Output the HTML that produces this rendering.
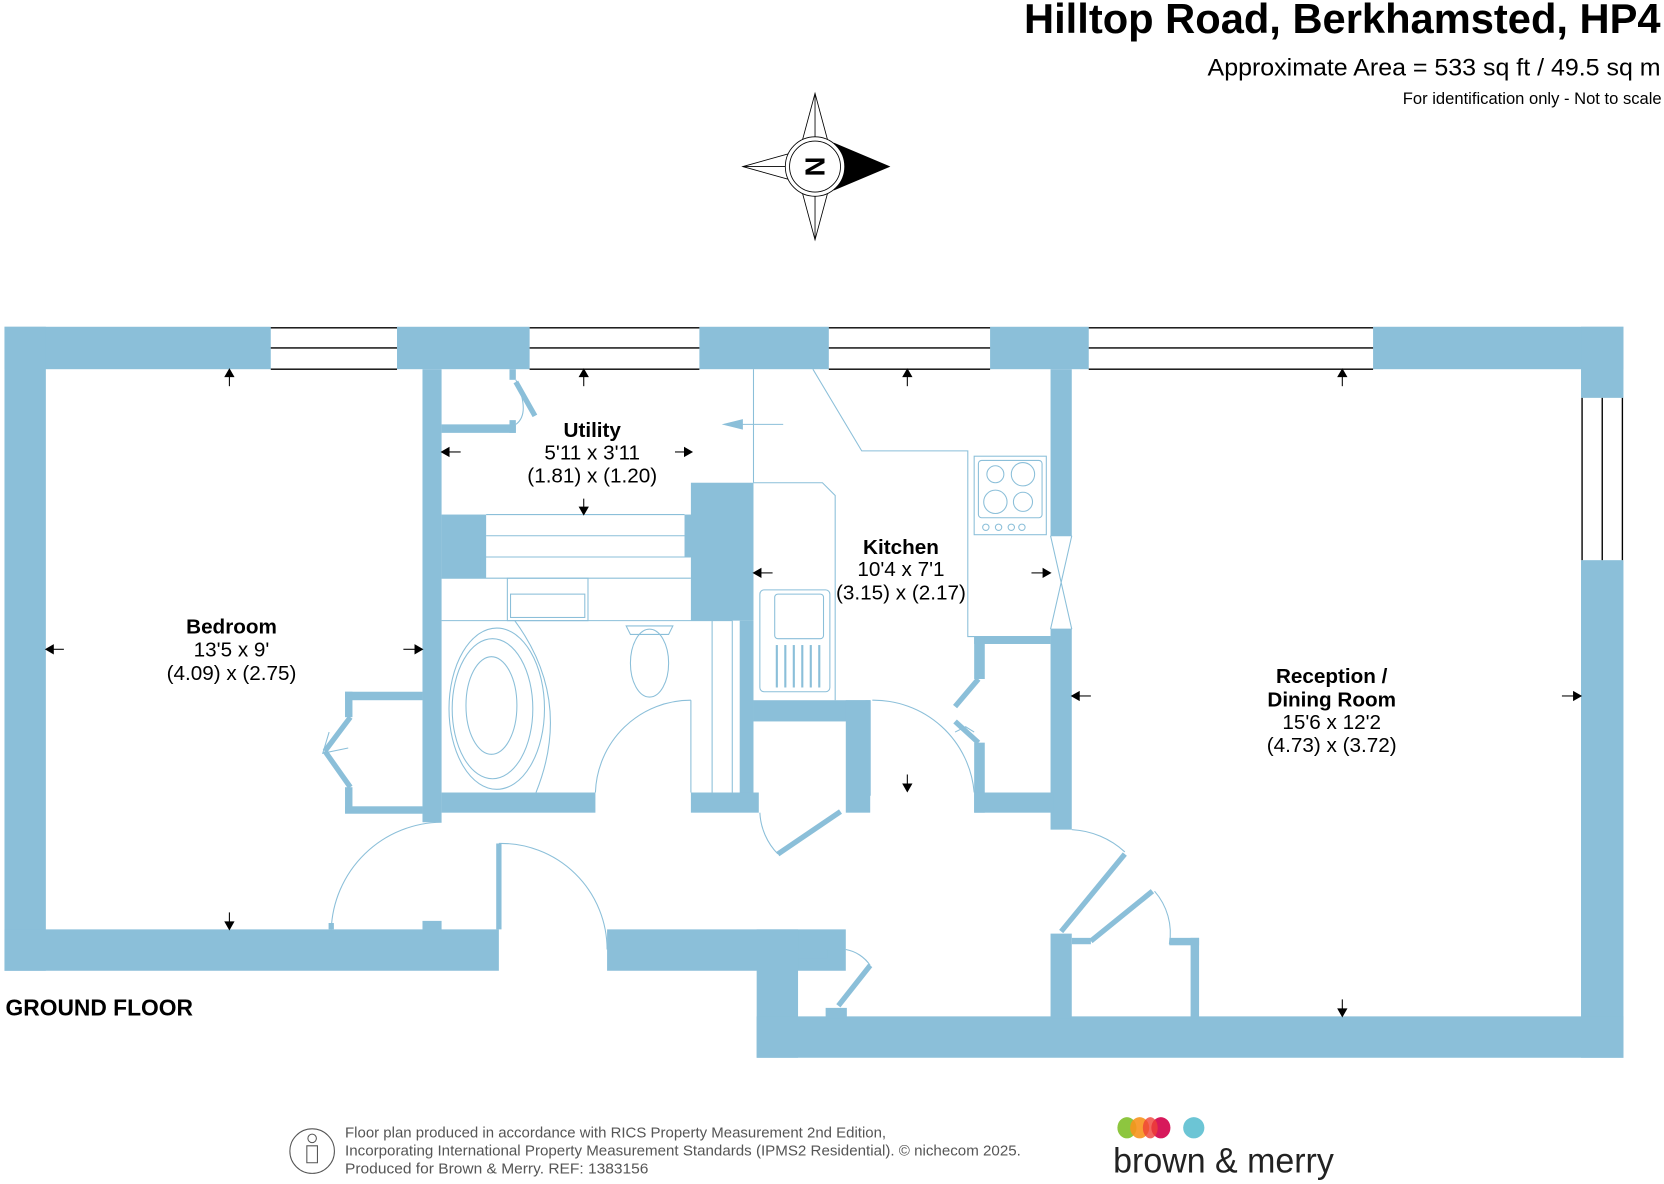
<!DOCTYPE html>
<html><head><meta charset="utf-8"><style>
html,body{margin:0;padding:0;background:#fff;width:1664px;height:1184px;overflow:hidden}
svg{display:block}
text{font-family:"Liberation Sans",sans-serif}
</style></head><body>
<svg width="1664" height="1184" viewBox="0 0 1568 1116" xmlns="http://www.w3.org/2000/svg">
<g fill="#8bbfd9">
<rect x="4" y="308" width="251" height="40"/>
<rect x="374" y="308" width="125" height="40"/>
<rect x="659" y="308" width="122" height="40"/>
<rect x="933" y="308" width="93" height="40"/>
<rect x="1294" y="308" width="236" height="40"/>
<rect x="4" y="308" width="39" height="607"/>
<rect x="1490" y="308" width="40" height="67"/>
<rect x="1490" y="528" width="40" height="469"/>
<rect x="4" y="876" width="466" height="39"/>
<rect x="572" y="876" width="225" height="39"/>
<rect x="713" y="876" width="39" height="121"/>
<rect x="713" y="958" width="817" height="39"/>
<rect x="398" y="868" width="18" height="10"/>
<rect x="752" y="895" width="28" height="8"/>
<rect x="778" y="950" width="20" height="10"/>
<rect x="398" y="348" width="18" height="427"/>
<rect x="325" y="652" width="73" height="8"/>
<rect x="325" y="760" width="73" height="7"/>
<rect x="325" y="652" width="7" height="24"/>
<rect x="325" y="742" width="7" height="24"/>
<rect x="416" y="400" width="70" height="8"/>
<rect x="480" y="348" width="6" height="10"/>
<rect x="480" y="396" width="6" height="12"/>
<rect x="416" y="485" width="42" height="60"/>
<rect x="651" y="455" width="59" height="130"/>
<rect x="645" y="485" width="8" height="40"/>
<rect x="697" y="585" width="13" height="180"/>
<rect x="416" y="747" width="145" height="19"/>
<rect x="651" y="747" width="64" height="19"/>
<rect x="710" y="660" width="110" height="20"/>
<rect x="797" y="660" width="23" height="106"/>
<rect x="990" y="348" width="20" height="157"/>
<rect x="990" y="593" width="20" height="189"/>
<rect x="918" y="600" width="72" height="7"/>
<rect x="918" y="600" width="10" height="40"/>
<rect x="918" y="700" width="10" height="66"/>
<rect x="918" y="747" width="75" height="19"/>
<rect x="990" y="880" width="20" height="80"/>
<rect x="1010" y="884" width="18" height="6"/>
<rect x="1102" y="884" width="28" height="7"/>
<rect x="1122" y="884" width="8" height="76"/>
</g>
<g stroke="#000" stroke-width="1.3">
<line x1="255" y1="309" x2="374" y2="309"/><line x1="255" y1="328" x2="374" y2="328"/><line x1="255" y1="348" x2="374" y2="348"/>
<line x1="499" y1="309" x2="659" y2="309"/><line x1="499" y1="328" x2="659" y2="328"/><line x1="499" y1="348" x2="659" y2="348"/>
<line x1="781" y1="309" x2="933" y2="309"/><line x1="781" y1="328" x2="933" y2="328"/><line x1="781" y1="348" x2="933" y2="348"/>
<line x1="1026" y1="309" x2="1294" y2="309"/><line x1="1026" y1="328" x2="1294" y2="328"/><line x1="1026" y1="348" x2="1294" y2="348"/>
<line x1="1491" y1="375" x2="1491" y2="528"/><line x1="1510" y1="375" x2="1510" y2="528"/><line x1="1529" y1="375" x2="1529" y2="528"/>
</g>
<g fill="none" stroke="#8bbfd9" stroke-width="1">
<line x1="458" y1="485" x2="645" y2="485"/><line x1="458" y1="505" x2="645" y2="505"/><line x1="452" y1="525" x2="651" y2="525"/><line x1="452" y1="525" x2="452" y2="545"/>
<line x1="416" y1="545" x2="651" y2="545"/><line x1="416" y1="585" x2="690" y2="585"/>
<rect x="478" y="545" width="76" height="40"/><rect x="481" y="560" width="70" height="22"/>
<ellipse cx="468" cy="668" rx="45" ry="76"/><ellipse cx="464" cy="668" rx="38" ry="66"/><ellipse cx="463" cy="665" rx="24" ry="46"/>
<path d="M485 585 Q540 660 505 747"/>
<ellipse cx="612" cy="625" rx="18" ry="32"/><path d="M590 590 L634 590 L630 598 L594 598Z"/>
<line x1="671" y1="585" x2="671" y2="747"/><line x1="690" y1="585" x2="690" y2="747"/>
<path d="M561 747 A90 90 0 0 1 651 660"/><line x1="651" y1="660" x2="651" y2="747"/>
<line x1="710" y1="348" x2="710" y2="455"/>
<path d="M766 348 L812 425 L912 425 L912 600 L990 600"/>
<path d="M710 455 L775 455 L787 467 L787 660"/>
<rect x="716" y="556" width="66" height="96" rx="4"/><rect x="730" y="560" width="46" height="42" rx="3"/>
<rect x="918" y="430" width="68" height="74"/><rect x="922" y="434" width="60" height="54" rx="3"/>
<circle cx="938" cy="447" r="8"/><circle cx="964" cy="447" r="11"/><circle cx="938" cy="473" r="11"/><circle cx="964" cy="473" r="9"/>
<circle cx="929" cy="497" r="3"/><circle cx="941" cy="497" r="3"/><circle cx="953" cy="497" r="3"/><circle cx="963" cy="497" r="3"/>
<path d="M990 505 L1010 593 M1010 505 L990 593 M990 505 L1010 505 M990 593 L1010 593"/>
<line x1="686" y1="400" x2="738" y2="400"/>
<path d="M822 660 A95 95 0 0 1 918 747"/>
<path d="M716 766 A60 60 0 0 0 733 805"/>
<path d="M416 775 A105 105 0 0 0 312 876"/><path d="M470 795 A100 100 0 0 1 572 895"/>
<path d="M1010 782 A80 80 0 0 1 1060 803"/><path d="M1088 840 A60 60 0 0 1 1102 890"/>
<path d="M797 895 A35 35 0 0 1 820 910"/>
<path d="M486 358 Q500 390 486 400"/>
<path d="M310 690 L304 710 L328 705"/><path d="M900 690 L910 685 L918 690"/>
</g>
<g stroke="#8bbfd9" stroke-width="5" fill="none">
<line x1="486" y1="360" x2="504" y2="392"/>
<line x1="330" y1="676" x2="306" y2="708"/><line x1="306" y1="708" x2="330" y2="742"/>
<line x1="922" y1="640" x2="900" y2="666"/><line x1="900" y1="680" x2="922" y2="700"/>
<line x1="733" y1="805" x2="792" y2="765"/>
<line x1="312" y1="876" x2="312" y2="870"/><line x1="470" y1="795" x2="470" y2="876"/>
<line x1="1000" y1="878" x2="1060" y2="805"/><line x1="1028" y1="887" x2="1086" y2="840"/>
<line x1="790" y1="948" x2="820" y2="910"/>
<line x1="818" y1="660" x2="818" y2="750"/>
</g>
<g stroke="#8bbfd9" stroke-width="2">
<line x1="732" y1="608" x2="732" y2="648"/><line x1="740" y1="608" x2="740" y2="648"/><line x1="748" y1="608" x2="748" y2="648"/><line x1="756" y1="608" x2="756" y2="648"/><line x1="764" y1="608" x2="764" y2="648"/><line x1="772" y1="608" x2="772" y2="648"/>
</g>
<polygon points="680,400 700,395 700,405" fill="#8bbfd9"/>
<g stroke="#000" stroke-width="1" fill="#000">
<line x1="216" y1="352" x2="216" y2="364"/><polygon points="216,348 212,355 220,355"/>
<line x1="216" y1="860" x2="216" y2="872"/><polygon points="216,876 212,869 220,869"/>
<line x1="47" y1="612" x2="60" y2="612"/><polygon points="43,612 50,608 50,616"/>
<line x1="380" y1="612" x2="393" y2="612"/><polygon points="398,612 391,608 391,616"/>
<line x1="550" y1="352" x2="550" y2="364"/><polygon points="550,348 546,355 554,355"/>
<line x1="550" y1="470" x2="550" y2="481"/><polygon points="550,485 546,478 554,478"/>
<line x1="420" y1="426" x2="434" y2="426"/><polygon points="416,426 423,422 423,430"/>
<line x1="636" y1="426" x2="648" y2="426"/><polygon points="652,426 645,422 645,430"/>
<line x1="855" y1="352" x2="855" y2="364"/><polygon points="855,348 851,355 859,355"/>
<line x1="855" y1="730" x2="855" y2="742"/><polygon points="855,746 851,739 859,739"/>
<line x1="714" y1="540" x2="728" y2="540"/><polygon points="710,540 717,536 717,544"/>
<line x1="972" y1="540" x2="986" y2="540"/><polygon points="990,540 983,536 983,544"/>
<line x1="1265" y1="352" x2="1265" y2="364"/><polygon points="1265,348 1261,355 1269,355"/>
<line x1="1265" y1="942" x2="1265" y2="954"/><polygon points="1265,958 1261,951 1269,951"/>
<line x1="1014" y1="656" x2="1028" y2="656"/><polygon points="1010,656 1017,652 1017,660"/>
<line x1="1472" y1="656" x2="1486" y2="656"/><polygon points="1490,656 1483,652 1483,660"/>
</g>
<g stroke="#000" stroke-width="0.8" fill="#fff">
<polygon points="768,88 782,140 768,157 754,140"/>
<polygon points="768,226 782,174 768,157 754,174"/>
<polygon points="700,157 750,143 768,157 750,171"/>
<line x1="768" y1="88" x2="768" y2="157"/><line x1="768" y1="226" x2="768" y2="157"/><line x1="700" y1="157" x2="768" y2="157"/>
<polygon points="786,135 838,157 786,179" fill="#000"/>
<circle cx="768" cy="157" r="28"/><circle cx="768" cy="157" r="24"/>
</g>
<text x="768" y="157" font-size="26" font-weight="bold" text-anchor="middle" transform="rotate(90 768 157)" dy="9">N</text>
<text x="1565" y="31" font-size="39" font-weight="bold" text-anchor="end" textLength="600" lengthAdjust="spacingAndGlyphs">Hilltop Road, Berkhamsted, HP4</text>
<text x="1565" y="71" font-size="23" text-anchor="end" textLength="427" lengthAdjust="spacingAndGlyphs">Approximate Area = 533 sq ft / 49.5 sq m</text>
<text x="1566" y="98" font-size="15.5" text-anchor="end" textLength="244" lengthAdjust="spacingAndGlyphs">For identification only - Not to scale</text>
<g font-size="19.5" text-anchor="middle">
<text x="218" y="597" font-weight="bold">Bedroom</text><text x="218" y="619">13'5 x 9'</text><text x="218" y="641">(4.09) x (2.75)</text>
<text x="558" y="412" font-weight="bold">Utility</text><text x="558" y="433">5'11 x 3'11</text><text x="558" y="455">(1.81) x (1.20)</text>
<text x="849" y="522" font-weight="bold">Kitchen</text><text x="849" y="543">10'4 x 7'1</text><text x="849" y="565">(3.15) x (2.17)</text>
<text x="1255" y="644" font-weight="bold">Reception /</text><text x="1255" y="666" font-weight="bold">Dining Room</text><text x="1255" y="687">15'6 x 12'2</text><text x="1255" y="709">(4.73) x (3.72)</text>
</g>
<text x="5" y="957" font-size="21.5" font-weight="bold">GROUND FLOOR</text>
<g fill="none" stroke="#555" stroke-width="1"><circle cx="294" cy="1085" r="21"/><circle cx="294" cy="1073" r="4"/><path d="M289 1080 L299 1080 L299 1096 L289 1096 Z"/></g>
<g font-size="14" fill="#555">
<text x="325" y="1072" textLength="510" lengthAdjust="spacingAndGlyphs">Floor plan produced in accordance with RICS Property Measurement 2nd Edition,</text>
<text x="325" y="1089" textLength="637" lengthAdjust="spacingAndGlyphs">Incorporating International Property Measurement Standards (IPMS2 Residential).   © nichecom 2025.</text>
<text x="325" y="1106" textLength="286" lengthAdjust="spacingAndGlyphs">Produced for Brown &amp; Merry.   REF: 1383156</text>
</g>
<ellipse cx="1062" cy="1063" rx="9" ry="10" fill="#8dc63f"/>
<ellipse cx="1074" cy="1063" rx="9" ry="10" fill="#f7941d" opacity="0.9"/>
<ellipse cx="1094" cy="1063" rx="9" ry="10" fill="#d7195b"/>
<ellipse cx="1084" cy="1063" rx="7" ry="10" fill="#ef4136" opacity="0.8"/>
<ellipse cx="1125" cy="1063" rx="10" ry="10" fill="#6cc5d5"/>
<text x="1049" y="1105" font-size="33" fill="#222" textLength="208" lengthAdjust="spacingAndGlyphs">brown &amp; merry</text>
</svg>
</body></html>
